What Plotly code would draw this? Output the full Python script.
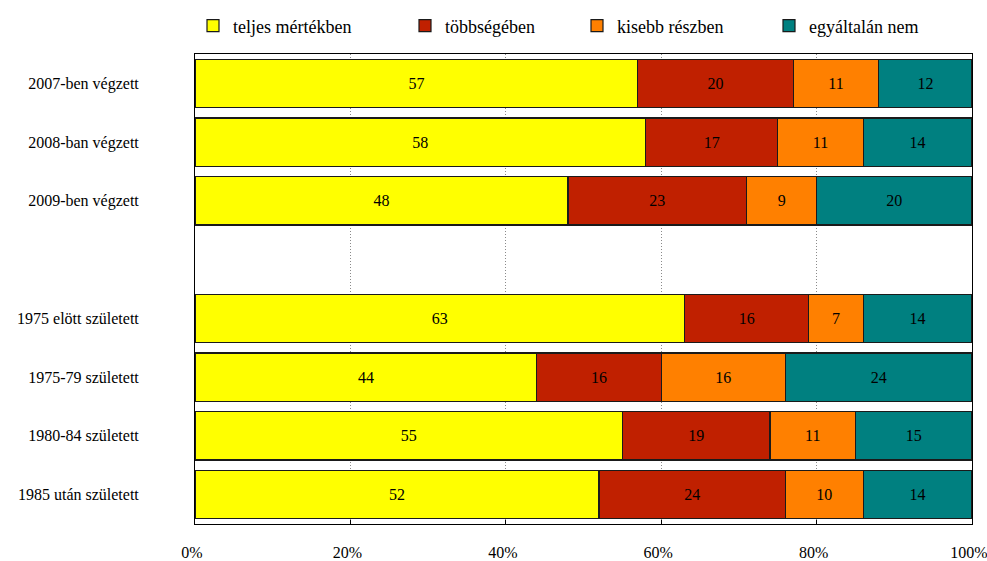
import plotly.graph_objects as go

categories = ["2007-ben végzett", "2008-ban végzett", "2009-ben végzett", " ",
              "1975 elött született", "1975-79 született", "1980-84 született", "1985 után született"]
series_names = ["teljes mértékben", "többségében", "kisebb részben", "egyáltalán nem"]
teljes = [57, 58, 48, None, 63, 44, 55, 52]
tobbseg = [20, 17, 23, None, 16, 16, 19, 24]
kisebb = [11, 11, 9, None, 7, 16, 11, 10]
egyaltalan = [12, 14, 20, None, 14, 24, 15, 14]
x_ticks = [0, 20, 40, 60, 80, 100]
x_tick_labels = ["0%", "20%", "40%", "60%", "80%", "100%"]

colors = ["#FFFF00", "#C02000", "#FF8000", "#008080"]
values = [teljes, tobbseg, kisebb, egyaltalan]
legend_ids = ["legend", "legend2", "legend3", "legend4"]
legend_text_x = [233, 445, 617, 809]

FONT = "Liberation Serif"
fig = go.Figure()
for name, vals, col, lid in zip(series_names, values, colors, legend_ids):
    fig.add_trace(go.Bar(
        y=categories, x=vals, name=name, orientation="h",
        marker=dict(color=col, line=dict(color="#1a1a1a", width=1.2)),
        text=[("" if v is None else str(v)) for v in vals],
        textposition="inside", insidetextanchor="middle",
        textfont=dict(family=FONT, size=16, color="#000000"),
        legend=lid, hoverinfo="skip",
    ))

layout_legends = {}
for lid, tx in zip(legend_ids, legend_text_x):
    layout_legends[lid] = dict(
        xref="container", yref="container",
        x=(tx - 40) / 987, y=1 - 26 / 561, xanchor="left", yanchor="middle",
        orientation="h", font=dict(family=FONT, size=18, color="#000"),
        bgcolor="rgba(0,0,0,0)", borderwidth=0,
    )

fig.update_layout(
    barmode="stack", bargap=0.18,
    width=987, height=561,
    margin=dict(l=195, r=15, t=54, b=37, autoexpand=False),
    paper_bgcolor="white", plot_bgcolor="white",
    font=dict(family=FONT, size=16, color="#000"),
    showlegend=True,
    uniformtext=dict(mode="show", minsize=10),
    **layout_legends,
)
fig.update_xaxes(
    range=[0, 100], tickvals=x_ticks, ticktext=x_tick_labels,
    showgrid=True, gridcolor="#8a8a8a", griddash="1px,2px", gridwidth=1,
    showline=True, linecolor="#000", linewidth=1, mirror=True,
    ticks="inside", ticklen=4, tickcolor="#000",
    ticklabelstandoff=14, ticklabelshift=-3, ticklabeloverflow="allow",
    zeroline=False, automargin=False,
    tickfont=dict(family=FONT, size=16),
)
fig.update_yaxes(
    categoryorder="array", categoryarray=categories, autorange="reversed",
    showline=True, linecolor="#000", linewidth=1, mirror=True,
    ticks="", showgrid=False, ticklabelstandoff=52, automargin=False,
    tickfont=dict(family=FONT, size=16),
)
fig.write_html("out.html", config={"displayModeBar": False},
               post_script="document.body.style.margin='0';")
